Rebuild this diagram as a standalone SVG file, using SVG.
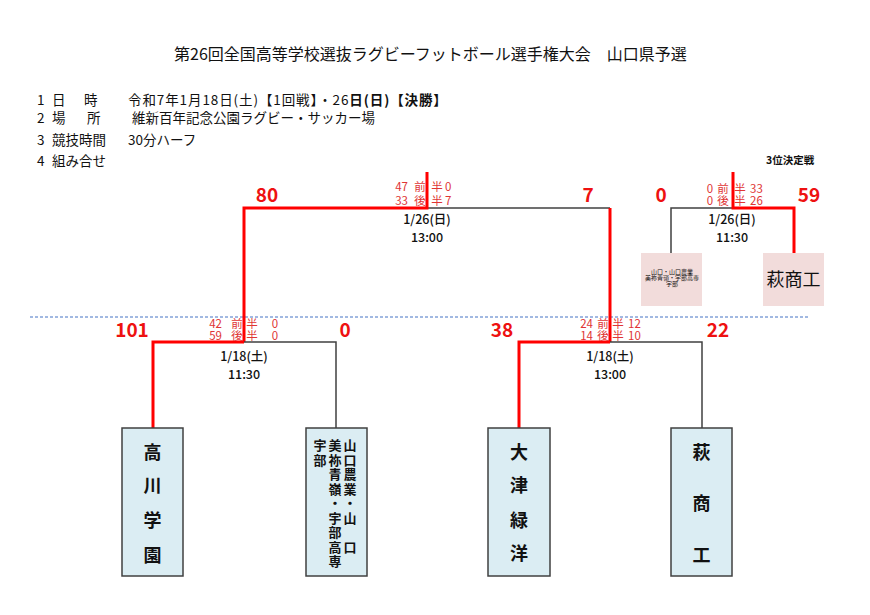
<svg xmlns="http://www.w3.org/2000/svg" width="870" height="615" viewBox="0 0 870 615">
<style>
text{font-family:"Noto Sans CJK JP","Noto Sans",sans-serif;fill:#111}
.title{font-size:16px}
.info{font-size:13.5px}
.b{font-weight:bold}
.score{font-size:19px;font-weight:bold;fill:#ee1111;text-anchor:middle}
.half{font-size:11.5px;fill:#e03535}
.date{font-size:12.5px;text-anchor:middle;font-weight:500}
.red{stroke:#ff0000;stroke-width:3;fill:none}
.blk{stroke:#404040;stroke-width:1.5;fill:none}
.box{fill:#dbedf3;stroke:#404040;stroke-width:1.5}
.pink{fill:#f2dcdb}
.nm{font-size:18px;font-weight:bold;text-anchor:middle}
.nm2{font-size:13px;font-weight:bold;text-anchor:middle}
</style>
<rect width="870" height="615" fill="#ffffff"/>
<text class="title" x="174" y="60">第26回全国高等学校選抜ラグビーフットボール選手権大会　山口県予選</text>
<g id="info">
<text class="info" x="37" y="105">1</text><text class="info" x="52" y="105">日</text><text class="info" x="84" y="105">時</text>
<text class="info" x="128" y="105" style="letter-spacing:0.9px">令和7年1月18日(土)【1回戦】・26<tspan class="b">日(日)【決勝】</tspan></text>
<text class="info" x="37" y="123">2</text><text class="info" x="52" y="123">場</text><text class="info" x="87" y="123">所</text>
<text class="info" x="132" y="123">維新百年記念公園ラグビー・サッカー場</text>
<text class="info" x="37" y="145">3</text><text class="info" x="52" y="145">競技時間</text>
<text class="info" x="128" y="145">30分ハーフ</text>
<text class="info" x="37" y="166">4</text><text class="info" x="52" y="166">組み合せ</text>
<text x="766" y="164" style="font-size:10.5px;font-weight:bold">3位決定戦</text>
</g>
<line x1="30" y1="317" x2="810" y2="317" stroke="#4472c4" stroke-width="1" stroke-dasharray="3,2"/>
<g id="connectors">
<polyline class="blk" points="427,208 610,208"/>
<polyline class="red" points="427,172 427,208 244,208 244,342"/>
<polyline class="red" points="610,208 610,342"/>
<polyline class="blk" points="244,342 336,342 336,428"/>
<polyline class="red" points="244,342 153,342 153,428"/>
<polyline class="blk" points="610,342 702,342 702,428"/>
<polyline class="red" points="610,342 519,342 519,428"/>
<polyline class="blk" points="733,208 671,208 671,253"/>
<polyline class="red" points="733,172 733,208 794,208 794,253"/>
</g>
<g id="final-labels">
<text class="score" x="267" y="202">80</text>
<text class="score" x="588" y="202">7</text>
<text class="half" x="408" y="191" text-anchor="end">47</text><text class="half" x="420" y="191" text-anchor="middle">前</text><text class="half" x="437" y="191" text-anchor="middle">半</text><text class="half" x="445" y="191">0</text>
<text class="half" x="408" y="205" text-anchor="end">33</text><text class="half" x="420" y="205" text-anchor="middle">後</text><text class="half" x="437" y="205" text-anchor="middle">半</text><text class="half" x="445" y="205">7</text>
<text class="date" x="427" y="224">1/26(日)</text>
<text class="date" x="427" y="242">13:00</text>
</g>
<g id="third-labels">
<text class="score" x="661" y="202">0</text>
<text class="score" x="809" y="202">59</text>
<text class="half" x="710" y="193" text-anchor="middle">0</text><text class="half" x="723" y="193" text-anchor="middle">前</text><text class="half" x="740" y="193" text-anchor="middle">半</text><text class="half" x="750" y="193">33</text>
<text class="half" x="710" y="205" text-anchor="middle">0</text><text class="half" x="723" y="205" text-anchor="middle">後</text><text class="half" x="740" y="205" text-anchor="middle">半</text><text class="half" x="750" y="205">26</text>
<text class="date" x="732" y="224">1/26(日)</text>
<text class="date" x="732" y="242">11:30</text>
</g>
<g id="semi1-labels">
<text class="score" x="132" y="337">101</text>
<text class="score" x="345" y="337">0</text>
<text class="half" x="222" y="328" text-anchor="end">42</text><text class="half" x="237" y="328" text-anchor="middle">前</text><text class="half" x="252" y="328" text-anchor="middle">半</text><text class="half" x="275" y="328" text-anchor="middle">0</text>
<text class="half" x="222" y="340" text-anchor="end">59</text><text class="half" x="237" y="340" text-anchor="middle">後</text><text class="half" x="252" y="340" text-anchor="middle">半</text><text class="half" x="275" y="340" text-anchor="middle">0</text>
<text class="date" x="244" y="361">1/18(土)</text>
<text class="date" x="244" y="379">11:30</text>
</g>
<g id="semi2-labels">
<text class="score" x="502" y="337">38</text>
<text class="score" x="718" y="337">22</text>
<text class="half" x="593" y="328" text-anchor="end">24</text><text class="half" x="603" y="328" text-anchor="middle">前</text><text class="half" x="618" y="328" text-anchor="middle">半</text><text class="half" x="628" y="328">12</text>
<text class="half" x="593" y="340" text-anchor="end">14</text><text class="half" x="603" y="340" text-anchor="middle">後</text><text class="half" x="618" y="340" text-anchor="middle">半</text><text class="half" x="628" y="340">10</text>
<text class="date" x="610" y="361">1/18(土)</text>
<text class="date" x="610" y="379">13:00</text>
</g>
<g id="takagawa">
<rect class="box" x="122" y="428" width="61" height="148"/>
<text class="nm" x="152.5" y="459">高</text>
<text class="nm" x="152.5" y="492">川</text>
<text class="nm" x="152.5" y="527">学</text>
<text class="nm" x="152.5" y="562">園</text>
</g>
<g id="godo">
<rect class="box" x="306" y="428" width="61" height="148"/>
<text class="nm2" x="350" y="450">山</text><text class="nm2" x="350" y="464.5">口</text><text class="nm2" x="350" y="479">農</text><text class="nm2" x="350" y="493.5">業</text><text class="nm2" x="350" y="508">・</text><text class="nm2" x="350" y="522.5">山</text><text class="nm2" x="350" y="551.5">口</text>
<text class="nm2" x="335" y="450">美</text><text class="nm2" x="335" y="464.5">祢</text><text class="nm2" x="335" y="479">青</text><text class="nm2" x="335" y="493.5">嶺</text><text class="nm2" x="335" y="508">・</text><text class="nm2" x="335" y="522.5">宇</text><text class="nm2" x="335" y="537">部</text><text class="nm2" x="335" y="551.5">高</text><text class="nm2" x="335" y="566">専</text>
<text class="nm2" x="320" y="450">宇</text><text class="nm2" x="320" y="464.5">部</text>
</g>
<g id="otsu">
<rect class="box" x="488" y="428" width="62" height="148"/>
<text class="nm" x="519" y="459">大</text>
<text class="nm" x="519" y="492">津</text>
<text class="nm" x="519" y="527">緑</text>
<text class="nm" x="519" y="560">洋</text>
</g>
<g id="hagi">
<rect class="box" x="671" y="428" width="61" height="148"/>
<text class="nm" x="701.5" y="459">萩</text>
<text class="nm" x="701.5" y="510">商</text>
<text class="nm" x="701.5" y="562">工</text>
</g>
<g id="third-godo">
<rect class="pink" x="641" y="253" width="61" height="53"/>
<text x="672" y="274" text-anchor="middle" style="font-size:6px">山口・山口農業</text>
<text x="672" y="280" text-anchor="middle" style="font-size:6px">美祢青嶺・宇部高専</text>
<text x="672" y="286" text-anchor="middle" style="font-size:6px">宇部</text>
</g>
<g id="third-hagi">
<rect class="pink" x="763" y="253" width="61" height="53"/>
<text x="793.5" y="286" text-anchor="middle" style="font-size:18px">萩商工</text>
</g>
</svg>
